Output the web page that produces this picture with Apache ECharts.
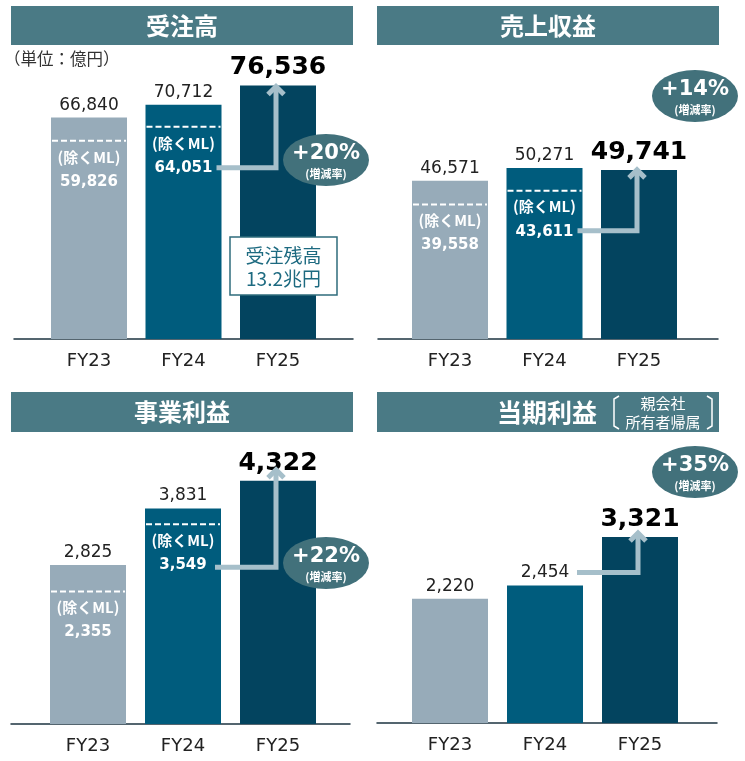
<!DOCTYPE html>
<html>
<head>
<meta charset="utf-8">
<script src="https://cdn.jsdelivr.net/npm/echarts@6/dist/echarts.min.js"></script>
<style>
  html, body { margin: 0; padding: 0; background: #fff; }
  #main { width: 745px; height: 761px; }
</style>
</head>
<body>
<div id="main"></div>
<script>
// data
const categories = ['FY23', 'FY24', 'FY25'];
const orders = [66840, 70712, 76536];
const ordersExML = [59826, 64051];
const revenue = [46571, 50271, 49741];
const revenueExML = [39558, 43611];
const bizProfit = [2825, 3831, 4322];
const bizProfitExML = [2355, 3549];
const netProfit = [2220, 2454, 3321];
const growthRates = ['+20%', '+14%', '+22%', '+35%'];
const backlogText = ['受注残高', '13.2兆円'];

const barColors = ['#97abb9', '#005c7d', '#03445f'];
const titleColor = '#4a7a85';
const bubbleColor = '#42717b';
const arrowColor = '#a6bfca';
const numFont = '"DejaVu Sans", sans-serif';
const jpFont = '"Noto Sans CJK JP", sans-serif';

const fmt = v => Number(v).toLocaleString('en-US');

// layout of the 4 panels
const panels = [
  { values: orders, exML: ordersExML, max: 80000,
    grid: { left: 41.75, right: 419.75, top: 74, bottom: 422 },
    axis: { left: 14, right: 392, bottom: 422 },
    arrowFrom: [33, 41], arrowTip: -1 },
  { values: revenue, exML: revenueExML, max: 60000,
    grid: { left: 402.75, right: 58.75, top: 135, bottom: 422 },
    axis: { left: 378, right: 27, bottom: 422 },
    arrowFrom: [33, 40], arrowTip: -2 },
  { values: bizProfit, exML: bizProfitExML, max: 5000,
    grid: { left: 40.5, right: 419.5, top: 442.6, bottom: 37 },
    axis: { left: 11, right: 395, bottom: 37 },
    arrowFrom: [32, 43], arrowTip: -13 },
  { values: netProfit, exML: null, max: 5000,
    grid: { left: 402.5, right: 57.5, top: 443, bottom: 38 },
    axis: { left: 377, right: 28, bottom: 38 },
    arrowFrom: [32, -13], arrowTip: -6 }
];

const grids = [], xAxes = [], yAxes = [], series = [];

panels.forEach((p, i) => {
  grids.push(p.grid);
  xAxes.push({
    type: 'category', gridIndex: i, data: categories,
    axisLine: { show: false }, axisTick: { show: false },
    axisLabel: { fontFamily: numFont, fontSize: 18, color: '#222', margin: 13 }
  });
  yAxes.push({ type: 'value', gridIndex: i, min: 0, max: p.max, show: false });

  series.push({
    type: 'bar', xAxisIndex: i, yAxisIndex: i, barWidth: 76,
    data: p.values.map((v, j) => ({
      value: v,
      itemStyle: { color: barColors[j] },
      label: j === 2
        ? { fontSize: 25, fontWeight: 'bold', color: '#000', distance: 5 }
        : {}
    })),
    label: {
      show: true, position: 'top', distance: 4,
      fontFamily: numFont, fontSize: 17, color: '#222',
      formatter: d => fmt(d.value)
    }
  });

  if (p.exML) {
    series.push({
      type: 'custom', xAxisIndex: i, yAxisIndex: i,
      data: p.exML.map((v, j) => [j, v]),
      z: 5,
      renderItem: (params, api) => {
        const c = api.coord([api.value(0), api.value(1)]);
        return {
          type: 'group',
          children: [
            { type: 'line', shape: { x1: c[0] - 37, y1: c[1], x2: c[0] + 37, y2: c[1] },
              style: { stroke: '#fff', lineWidth: 2, lineDash: [6, 3] } },
            { type: 'text', x: c[0], y: c[1] + 16,
              style: { text: '(除くML)', fill: '#fff', font: 'bold 15px ' + jpFont,
                       align: 'center', verticalAlign: 'middle' } },
            { type: 'text', x: c[0], y: c[1] + 41,
              style: { text: fmt(api.value(1)), fill: '#fff', font: 'bold 15px ' + numFont,
                       align: 'center', verticalAlign: 'middle' } }
          ]
        };
      }
    });
  }

  // growth arrow from FY24 to FY25
  const fromVal = p.exML ? p.exML[1] : p.values[1];
  series.push({
    type: 'custom', xAxisIndex: i, yAxisIndex: i, z: 6,
    data: [[1, fromVal, 2, p.values[2]]],
    renderItem: (params, api) => {
      const s = api.coord([api.value(0), api.value(1)]);
      const e = api.coord([api.value(2), api.value(3)]);
      const sx = s[0] + p.arrowFrom[0], sy = s[1] + p.arrowFrom[1];
      const ex = e[0] - 2, tip = e[1] + p.arrowTip;
      return {
        type: 'group',
        children: [
          { type: 'polyline', shape: { points: [[sx, sy], [ex, sy], [ex, tip + 3]] },
            style: { stroke: arrowColor, lineWidth: 5, fill: null } },
          { type: 'polyline', shape: { points: [[ex - 8, tip + 10], [ex, tip + 2], [ex + 8, tip + 10]] },
            style: { stroke: arrowColor, lineWidth: 5, fill: null, lineJoin: 'miter' } }
        ]
      };
    }
  });
});

// baseline grids (wider than the bar area)
panels.forEach((p, i) => {
  const gi = grids.length;
  grids.push({ left: p.axis.left, right: p.axis.right, bottom: p.axis.bottom, height: 10 });
  xAxes.push({
    type: 'category', gridIndex: gi, data: [''],
    axisLine: { show: true, lineStyle: { color: '#1c3340', width: 1.5 } },
    axisTick: { show: false }, axisLabel: { show: false }
  });
  yAxes.push({ type: 'value', gridIndex: gi, show: false });
});

// titles, bubbles, notes
const titleBar = (x, y, h, text, cx) => [
  { type: 'rect', shape: { x: x, y: y, width: 342, height: h }, style: { fill: titleColor } },
  { type: 'text', x: cx, y: y + h / 2,
    style: { text: text, fill: '#fff', font: 'bold 24px ' + jpFont, align: 'center', verticalAlign: 'middle' } }
];
const bubble = (cx, cy, rate) => [
  { type: 'circle', x: cx, y: cy, scaleX: 43 / 26, shape: { cx: 0, cy: 0, r: 26 },
    style: { fill: bubbleColor } },
  { type: 'text', x: cx, y: cy - 6,
    style: { text: rate, fill: '#fff', font: 'bold 21px ' + numFont, align: 'center', verticalAlign: 'middle' } },
  { type: 'text', x: cx, y: cy + 14,
    style: { text: '(増減率)', fill: '#fff', font: 'bold 11px ' + jpFont, align: 'center', verticalAlign: 'middle' } }
];

const graphics = [].concat(
  titleBar(11, 6, 39, '受注高', 182),
  titleBar(377, 6, 39, '売上収益', 548),
  titleBar(11, 392, 40, '事業利益', 182),
  titleBar(377, 392, 40, '', 548),
  [
    { type: 'text', x: 547, y: 412,
      style: { text: '当期利益', fill: '#fff', font: 'bold 25px ' + jpFont, align: 'center', verticalAlign: 'middle' } },
    { type: 'text', x: 663, y: 403,
      style: { text: '親会社', fill: '#fff', font: '15px ' + jpFont, align: 'center', verticalAlign: 'middle' } },
    { type: 'text', x: 663, y: 422,
      style: { text: '所有者帰属', fill: '#fff', font: '15px ' + jpFont, align: 'center', verticalAlign: 'middle' } },
    { type: 'polyline', shape: { points: [[619, 396], [614, 399], [614, 426], [619, 429]] },
      style: { stroke: '#fff', lineWidth: 1.5, fill: null } },
    { type: 'polyline', shape: { points: [[707, 396], [712, 399], [712, 426], [707, 429]] },
      style: { stroke: '#fff', lineWidth: 1.5, fill: null } },
    { type: 'text', x: 4, y: 59,
      style: { text: '（単位：億円）', fill: '#333', font: '16.5px ' + jpFont, verticalAlign: 'middle' } },
    { type: 'rect', shape: { x: 230, y: 237, width: 107, height: 58 },
      style: { fill: '#fff', stroke: '#2f6c7c', lineWidth: 1.5 } },
    { type: 'text', x: 283.5, y: 256,
      style: { text: backlogText[0], fill: '#1d6a80', font: '19px ' + jpFont, align: 'center', verticalAlign: 'middle' } },
    { type: 'text', x: 283.5, y: 279,
      style: { text: backlogText[1], fill: '#1d6a80', font: '19px ' + jpFont, align: 'center', verticalAlign: 'middle' } }
  ],
  bubble(326, 160, growthRates[0]),
  bubble(695, 96, growthRates[1]),
  bubble(326, 563, growthRates[2]),
  bubble(695, 472, growthRates[3])
).map(g => Object.assign({ z: 100 }, g));

const chart = echarts.init(document.getElementById('main'));
chart.setOption({
  animation: false,
  grid: grids,
  xAxis: xAxes,
  yAxis: yAxes,
  series: series,
  graphic: graphics
});
</script>
</body>
</html>
